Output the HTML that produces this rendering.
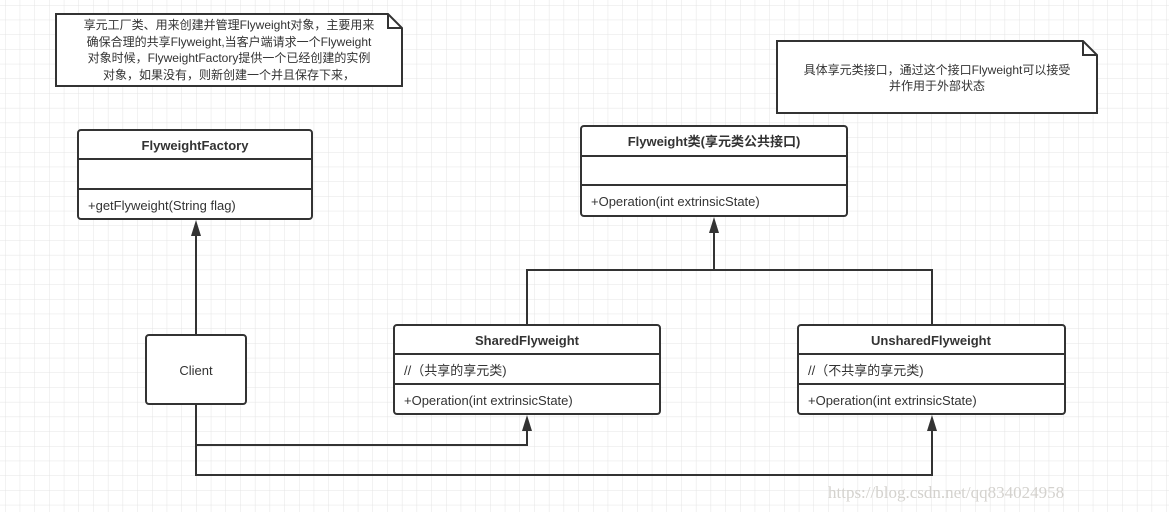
<!DOCTYPE html>
<html><head><meta charset="utf-8"><style>
html,body{margin:0;padding:0;background:#fff;}
svg{display:block;}
text{font-family:"Liberation Sans","Noto Sans CJK SC",sans-serif;fill:#333;}
</style></head><body>
<svg width="1169" height="512" viewBox="0 0 1169 512" xmlns="http://www.w3.org/2000/svg">
<defs>
<pattern id="g" width="14.7" height="14.7" patternUnits="userSpaceOnUse" x="5" y="5">
<path d="M0 0H14.7M0 0V14.7" stroke="#e4e4e4" stroke-width="1" fill="none"/>
</pattern>
</defs>
<rect width="1169" height="512" fill="url(#g)"/>
<g stroke="#333" stroke-width="2" fill="#fff">
<!-- note 1 -->
<path d="M56 14H388L402 28V86H56Z"/>
<path d="M388 14V28H402" fill="none"/>
<!-- note 2 -->
<path d="M777 41H1083L1097 55V113H777Z"/>
<path d="M1083 41V55H1097" fill="none"/>
<!-- classes -->
<rect x="78" y="130" width="234" height="89" rx="3"/>
<path d="M78 159H312M78 189H312" fill="none"/>
<rect x="581" y="126" width="266" height="90" rx="3"/>
<path d="M581 156H847M581 185H847" fill="none"/>
<rect x="146" y="335" width="100" height="69" rx="3"/>
<rect x="394" y="325" width="266" height="89" rx="3"/>
<path d="M394 354H660M394 384H660" fill="none"/>
<rect x="798" y="325" width="267" height="89" rx="3"/>
<path d="M798 354H1065M798 384H1065" fill="none"/>
<!-- connectors -->
<path d="M196 335V232" fill="none"/>
<path d="M527 325V270H932V325M714 270V230" fill="none"/>
<path d="M196 404V475H932V428M196 445H527V428" fill="none"/>
</g>
<g fill="#333">
<path d="M196 220L191 236H201Z"/>
<path d="M714 217L709 233H719Z"/>
<path d="M527 415L522 431H532Z"/>
<path d="M932 415L927 431H937Z"/>
</g>
<g font-size="12" text-anchor="middle">
<text x="229" y="29">享元工厂类、用来创建并管理Flyweight对象，主要用来</text>
<text x="229" y="46">确保合理的共享Flyweight,当客户端请求一个Flyweight</text>
<text x="229" y="62">对象时候，FlyweightFactory提供一个已经创建的实例</text>
<text x="229" y="79">对象，如果没有，则新创建一个并且保存下来，</text>
<text x="937" y="74">具体享元类接口，通过这个接口Flyweight可以接受</text>
<text x="937" y="90">并作用于外部状态</text>
</g>
<g font-size="13">
<text x="195" y="150" text-anchor="middle" font-weight="bold">FlyweightFactory</text>
<text x="88" y="210">+getFlyweight(String flag)</text>
<text x="714" y="146" text-anchor="middle" font-weight="bold">Flyweight类(享元类公共接口)</text>
<text x="591" y="206">+Operation(int extrinsicState)</text>
<text x="196" y="375" text-anchor="middle">Client</text>
<text x="527" y="345" text-anchor="middle" font-weight="bold">SharedFlyweight</text>
<text x="404" y="375">//（共享的享元类)</text>
<text x="404" y="405">+Operation(int extrinsicState)</text>
<text x="931" y="345" text-anchor="middle" font-weight="bold">UnsharedFlyweight</text>
<text x="808" y="375">//（不共享的享元类)</text>
<text x="808" y="405">+Operation(int extrinsicState)</text>
</g>
<text x="828" y="498" font-size="17" style="font-family:'Liberation Serif',serif;fill:#d4d2ce">https://blog.csdn.net/qq834024958</text>
</svg>
</body></html>
